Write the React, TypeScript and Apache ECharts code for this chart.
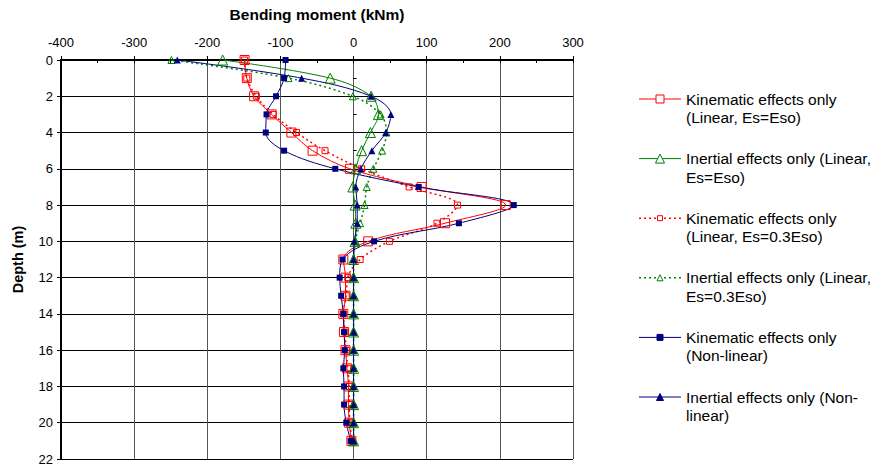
import React, { useEffect, useRef } from "react";
import * as echarts from "echarts";

const depths = [0, 1, 2, 3, 4, 5, 6, 7, 8, 9, 10, 11, 12, 13, 14, 15, 16, 17, 18, 19, 20, 21];
const xTicks = [-400, -300, -200, -100, 0, 100, 200, 300];

const kinLinear = [-149, -146, -136, -112, -85, -56, -5, 93, 208, 125, 20, -14, -11, -11, -14, -13, -11, -9, -7, -7, -6, -3];
const inerLinear = [-179, -32, 24, 34, 23, 11, 3, -1, 2, 3, 2, 0, 0, 0, 0, 0, 0, 0, 0, 0, 0, 0];
const kinLinear03 = [-149, -146, -133, -110, -78, -39, 11, 76, 142, 114, 49, 9, -8, -10, -14, -12, -10, -8, -6, -6, -5, -2];
const inerLinear03 = [-249, -89, -1, 37, 45, 39, 27, 18, 15, 9, 2, 0, 0, 0, 0, 0, 0, 0, 0, 0, 0, 0];
const kinNonLinear = [-93, -95, -106, -119, -120, -95, -25, 89, 219, 144, 28, -15, -19, -17, -14, -13, -12, -14, -13, -13, -10, -4];
const inerNonLinear = [-241, -71, 24, 51, 44, 25, 10, 3, 5, 5, 1, 0, 0, 0, 0, 0, 0, 0, 0, 0, 0, 0];

const seriesNames = [
  ["Kinematic effects only", "(Linear, Es=Eso)"],
  ["Inertial effects only (Linear,", "Es=Eso)"],
  ["Kinematic effects only", "(Linear, Es=0.3Eso)"],
  ["Inertial effects only (Linear,", "Es=0.3Eso)"],
  ["Kinematic effects only", "(Non-linear)"],
  ["Inertial effects only (Non-", "linear)"],
];

const FONT = "'Liberation Sans', Arial, sans-serif";
const RED = "#ff0000";
const GREEN = "#008000";
const NAVY = "#000080";

type Style = { color: string; dotted: boolean; shape: "rect" | "tri"; filled: boolean; size: number; legendSize: number };
const styles: Style[] = [
  { color: RED, dotted: false, shape: "rect", filled: false, size: 9, legendSize: 8 },
  { color: GREEN, dotted: false, shape: "tri", filled: false, size: 10, legendSize: 9 },
  { color: RED, dotted: true, shape: "rect", filled: false, size: 6, legendSize: 5 },
  { color: GREEN, dotted: true, shape: "tri", filled: false, size: 7, legendSize: 6 },
  { color: NAVY, dotted: false, shape: "rect", filled: true, size: 6, legendSize: 6 },
  { color: NAVY, dotted: false, shape: "tri", filled: true, size: 7, legendSize: 7 },
];
const dataSets = [kinLinear, inerLinear, kinLinear03, inerLinear03, kinNonLinear, inerNonLinear];

export default function App() {
  const ref = useRef<HTMLDivElement>(null);
  useEffect(() => {
    if (!ref.current) return;
    const chart = echarts.init(ref.current, undefined, { renderer: "svg" });

    const series = dataSets.map((vals, i) => {
      const s = styles[i];
      return {
        name: seriesNames[i].join(" "),
        type: "line",
        xAxisIndex: 0,
        yAxisIndex: 0,
        smooth: 0.35,
        data: vals.map((v, k) => [v, depths[k]]),
        symbol: s.shape === "rect" ? "rect" : "triangle",
        symbolSize: s.size,
        showAllSymbol: true,
        lineStyle: { color: s.color, width: s.dotted ? 1.5 : 1, type: s.dotted ? [2, 3] : "solid" },
        itemStyle: s.filled
          ? { color: s.color }
          : { color: "rgba(255,255,255,0)", borderColor: s.color, borderWidth: 1 },
        emphasis: { disabled: true },
      };
    });

    const legendGraphics: any[] = [];
    seriesNames.forEach((lines, i) => {
      const s = styles[i];
      const cy = 99 + i * 59.6;
      const cx = 660;
      legendGraphics.push({
        type: "line",
        shape: { x1: 639, y1: cy, x2: 681, y2: cy },
        style: { stroke: s.color, lineWidth: s.dotted ? 1.5 : 1, lineDash: s.dotted ? [2, 3] : null },
      });
      const sz = s.legendSize;
      const symStyle = { fill: s.filled ? s.color : "#fff", stroke: s.color, lineWidth: 1 };
      if (s.shape === "rect") {
        legendGraphics.push({ type: "rect", shape: { x: cx - sz / 2, y: cy - sz / 2, width: sz, height: sz }, style: symStyle });
      } else {
        legendGraphics.push({
          type: "polygon",
          shape: { points: [[cx, cy - sz / 2], [cx + sz / 2, cy + sz / 2], [cx - sz / 2, cy + sz / 2]] },
          style: symStyle,
        });
      }
      legendGraphics.push({
        type: "text",
        x: 686,
        y: cy - 9.25,
        style: {
          text: lines.join("\n"),
          fontFamily: FONT,
          fontSize: 15.5,
          lineHeight: 18.5,
          fill: "#000",
          verticalAlign: "top",
          align: "left",
        },
      });
    });

    chart.setOption({
      animation: false,
      backgroundColor: "#fff",
      textStyle: { fontFamily: FONT },
      grid: { left: 61, top: 60, width: 512, height: 399, containLabel: false, outerBoundsMode: "none" },
      xAxis: [
        {
          type: "value",
          position: "top",
          min: -400,
          max: 300,
          interval: 100,
          name: "Bending moment (kNm)",
          nameLocation: "middle",
          nameGap: 38,
          nameMoveOverlap: false,
          nameTextStyle: { fontFamily: FONT, fontSize: 15.5, fontWeight: "bold", color: "#000" },
          axisLine: { show: true, onZero: false, lineStyle: { color: "#000", width: 2 } },
          axisTick: { show: true, inside: false, length: 4, lineStyle: { color: "#000" } },
          axisLabel: {
            fontFamily: FONT,
            fontSize: 13,
            color: "#000",
            margin: 11,
            formatter: (v: number) => (xTicks.includes(v) ? String(v) : ""),
          },
          splitLine: { show: true, lineStyle: { color: "#555", width: 1 } },
        },
        {
          type: "value",
          position: "top",
          min: -400,
          max: 300,
          interval: 50,
          axisLine: { show: false },
          axisTick: { show: true, inside: true, length: 3, lineStyle: { color: "#000" } },
          axisLabel: { show: false },
          splitLine: { show: false },
        },
      ],
      yAxis: [
        {
          type: "value",
          inverse: true,
          min: 0,
          max: 22,
          interval: 2,
          name: "Depth (m)",
          nameLocation: "middle",
          nameGap: 36,
          nameRotate: 90,
          nameMoveOverlap: false,
          nameTextStyle: { fontFamily: FONT, fontSize: 14.5, fontWeight: "bold", color: "#000" },
          axisLine: { show: true, onZero: false, lineStyle: { color: "#000", width: 2 } },
          axisTick: { show: true, inside: false, length: 4, lineStyle: { color: "#000" } },
          axisLabel: { fontFamily: FONT, fontSize: 13, color: "#000", margin: 8 },
          splitLine: { show: true, lineStyle: { color: "#000", width: 1 } },
        },
        {
          type: "value",
          inverse: true,
          position: "left",
          min: 0,
          max: 22,
          interval: 1,
          axisLine: { show: false },
          axisTick: { show: true, inside: true, length: 3, lineStyle: { color: "#000" } },
          axisLabel: { show: false },
          splitLine: { show: false },
        },
      ],
      series,
      graphic: legendGraphics,
    });

    return () => chart.dispose();
  }, []);

  return (
    <div
      ref={ref}
      style={{ position: "fixed", left: 0, top: 0, width: 875, height: 466, background: "#fff" }}
    />
  );
}
